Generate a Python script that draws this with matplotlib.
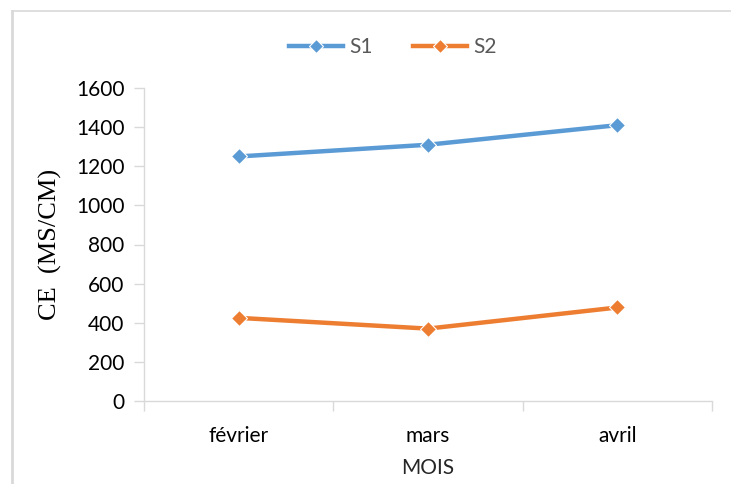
import matplotlib.pyplot as plt
from matplotlib.lines import Line2D

mois = ["février", "mars", "avril"]
s1 = [1250, 1310, 1410]
s2 = [425, 370, 478]
y_ticks = [0, 200, 400, 600, 800, 1000, 1200, 1400, 1600]

bleu = "#5B9BD5"
orange = "#ED7D31"
gris = "#D9D9D9"

plt.rcParams["font.family"] = ["Lato", "DejaVu Sans"]

fig = plt.figure(figsize=(7.31, 4.84), dpi=100)
ax = fig.add_axes([144 / 731, 1 - 401 / 484, (712 - 144) / 731, (401 - 88) / 484])

x = range(len(mois))
for serie, couleur, nom in [(s1, bleu, "S1"), (s2, orange, "S2")]:
    ax.plot(x, serie, color=couleur, lw=3.2, marker="D", ms=8,
            mfc=couleur, mec="white", mew=0.8, label=nom, solid_capstyle="butt")

ax.set_xlim(-0.5, 2.5)
ax.set_ylim(0, 1600)
ax.set_yticks(y_ticks)
ax.set_xticks(list(x))
ax.set_xticklabels(mois)
ax.set_xticks([-0.5, 0.5, 1.5, 2.5], minor=True)

for side in ["top", "right"]:
    ax.spines[side].set_visible(False)
for side in ["left", "bottom"]:
    ax.spines[side].set_color(gris)
    ax.spines[side].set_linewidth(1.0)

ax.tick_params(axis="y", length=7, width=1, color=gris, labelsize=15, pad=7)
ax.tick_params(axis="x", which="major", length=0, labelsize=15, pad=18)
ax.tick_params(axis="x", which="minor", length=7, width=1, color=gris)

ax.set_ylabel("CE  (MS/CM)", family="Liberation Serif", fontsize=19, labelpad=10)
ax.set_xlabel("MOIS", fontsize=15, labelpad=9, color="#262626")

poignees = [
    Line2D([], [], color=bleu, lw=3.2, marker="D", ms=7, mec="white", mew=0.8),
    Line2D([], [], color=orange, lw=3.2, marker="D", ms=7, mec="white", mew=0.8),
]
leg = fig.legend(poignees, ["S1", "S2"], loc="center", bbox_to_anchor=(393 / 731, 1 - 47 / 484),
                 ncol=2, frameon=False, fontsize=15, handlelength=2.6,
                 columnspacing=1.9, handletextpad=0.3)
for t in leg.get_texts():
    t.set_color("#595959")

# cadre du graphique
fig.add_artist(Line2D([11.5 / 731, 11.5 / 731], [0, 1 - 11 / 484], transform=fig.transFigure,
                      color=gris, lw=2))
fig.add_artist(Line2D([11.5 / 731, 1], [1 - 11 / 484, 1 - 11 / 484], transform=fig.transFigure,
                      color=gris, lw=1.2))

fig.savefig("out.png", dpi=100)
